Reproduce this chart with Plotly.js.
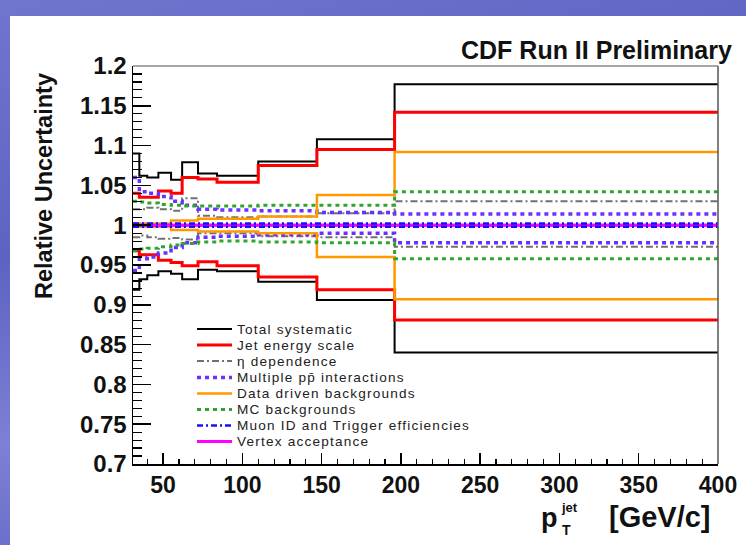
<!DOCTYPE html>
<html><head><meta charset="utf-8">
<script src="https://cdn.plot.ly/plotly-3.0.1.min.js"></script>
<style>
html,body{margin:0;padding:0;width:746px;height:545px;overflow:hidden;}
#bg{position:absolute;left:0;top:0;width:746px;height:545px;background:linear-gradient(165deg,#7275cf 0%,#5e62c2 35%,#7d80d4 60%,#5f63c3 85%,#6a6dc9 100%);}
#white{position:absolute;left:10px;top:16px;width:736px;height:529px;background:#ffffff;}
#chart{position:absolute;left:0;top:0;width:746px;height:545px;}
</style></head><body>
<div id="bg"></div><div id="white"></div><div id="chart"></div>
<script>
// ---- data ----
const binEdges = [31, 35, 40, 47, 55, 62, 72, 84, 110, 147, 196, 400];
const totalUp  = [1.090, 1.062, 1.060, 1.066, 1.057, 1.079, 1.065, 1.062, 1.080, 1.108, 1.177];
const totalDn  = [0.919, 0.932, 0.937, 0.942, 0.939, 0.932, 0.944, 0.942, 0.929, 0.906, 0.840];
const jesUp    = [1.040, 1.035, 1.035, 1.043, 1.040, 1.060, 1.058, 1.054, 1.075, 1.095, 1.142];
const jesDn    = [0.968, 0.963, 0.963, 0.956, 0.953, 0.949, 0.954, 0.949, 0.935, 0.919, 0.881];
const etaUp    = [1.020, 1.020, 1.022, 1.020, 1.018, 1.034, 1.012, 1.010, 1.011, 1.015, 1.030];
const etaDn    = [0.985, 0.987, 0.985, 0.983, 0.984, 0.982, 0.990, 0.990, 0.986, 0.985, 0.973];
const pileUp   = [1.060, 1.042, 1.040, 1.036, 1.030, 1.025, 1.020, 1.019, 1.018, 1.016, 1.014];
const pileDn   = [0.943, 0.958, 0.960, 0.965, 0.972, 0.978, 0.985, 0.986, 0.988, 0.990, 0.978];
const dataUp   = [1.002, 1.002, 1.002, 1.002, 1.006, 1.006, 1.008, 1.008, 1.011, 1.038, 1.092];
const dataDn   = [0.998, 0.998, 0.998, 0.998, 0.994, 0.994, 0.992, 0.992, 0.990, 0.960, 0.907];
const mcUp     = [1.030, 1.029, 1.028, 1.026, 1.025, 1.024, 1.024, 1.024, 1.025, 1.025, 1.042];
const mcDn     = [0.968, 0.970, 0.971, 0.973, 0.975, 0.977, 0.979, 0.980, 0.979, 0.978, 0.958];
const muonUp   = [1.002, 1.002, 1.002, 1.002, 1.002, 1.002, 1.002, 1.002, 1.002, 1.002, 1.002];
const muonDn   = [0.998, 0.998, 0.998, 0.998, 0.998, 0.998, 0.998, 0.998, 0.998, 0.998, 0.998];
const vtxUp    = [1.000, 1.000, 1.000, 1.000, 1.000, 1.000, 1.000, 1.000, 1.000, 1.000, 1.000];
const vtxDn    = [1.000, 1.000, 1.000, 1.000, 1.000, 1.000, 1.000, 1.000, 1.000, 1.000, 1.000];
const legendLabels = ['Total systematic','Jet energy scale','\u03b7 dependence','Multiple pp\u0304 interactions',
  'Data driven backgrounds','MC backgrounds','Muon ID and Trigger efficiencies','Vertex acceptance'];
const xTickVals = [50, 100, 150, 200, 250, 300, 350, 400];

// ---- styles ----
const styles = [
  {color:'#000000', width:2},
  {color:'#ff0000', width:3},
  {color:'#707070', width:2, dash:'7px,3px,2px,3px'},
  {color:'#6a30ff', width:3.5, dash:'4px,4px'},
  {color:'#ff9900', width:2.5},
  {color:'#2ea62e', width:3, dash:'4px,4px'},
  {color:'#1010ff', width:2.5, dash:'6px,3px,2px,3px'},
  {color:'#ff00ff', width:3}
];
const ups = [totalUp, jesUp, etaUp, pileUp, dataUp, mcUp, muonUp, vtxUp];
const dns = [totalDn, jesDn, etaDn, pileDn, dataDn, mcDn, muonDn, vtxDn];

function stepTrace(up, dn, line){
  const x = binEdges.concat([null]).concat(binEdges);
  const y = up.concat([up[up.length-1], null]).concat(dn).concat([dn[dn.length-1]]);
  return {x:x, y:y, type:'scatter', mode:'lines', line:Object.assign({shape:'hv'}, line),
          connectgaps:false, hoverinfo:'skip', showlegend:false};
}
// draw order: vertex before muon so the dash-dot lies on top
const order = [0,1,2,3,4,5,7,6];
const traces = order.map(i => stepTrace(ups[i], dns[i], styles[i]));

// ---- layout helpers (pixel -> paper) ----
const L=133, R=718, T=66, B=464;
const px = v => (v-L)/(R-L);
const py = v => (B-v)/(B-T);

const shapes = [
  {type:'line', xref:'paper', yref:'paper', x0:0, x1:1, y0:1, y1:1, line:{color:'#8a8a8a', width:1.5}},
  {type:'line', xref:'paper', yref:'paper', x0:1, x1:1, y0:0, y1:1, line:{color:'#555555', width:1.5}}
];
const annotations = [];
const rowY = [329, 345, 361, 377.5, 393.5, 409.5, 425.5, 441.5];
legendLabels.forEach((lab, i) => {
  const st = styles[i];
  shapes.push({type:'line', xref:'paper', yref:'paper', x0:px(197), x1:px(232), y0:py(rowY[i]), y1:py(rowY[i]),
    line:{color:st.color, width:st.width, dash:st.dash || 'solid'}});
  annotations.push({xref:'paper', yref:'paper', x:px(236), y:py(rowY[i]), xanchor:'left', yanchor:'middle',
    text:lab, showarrow:false, borderpad:0, font:{family:'Liberation Sans, Arial, sans-serif', size:13.6, color:'#222222'}});
});
const bold = (s) => ({family:'Liberation Sans, Arial, sans-serif', size:s, color:'#111111', weight:'bold'});
annotations.push({xref:'paper', yref:'paper', x:px(734), y:py(50), xanchor:'right', yanchor:'middle',
  text:'CDF Run II Preliminary', showarrow:false, font:bold(25)});
annotations.push({xref:'paper', yref:'paper', x:px(44), y:py(186), xanchor:'center', yanchor:'middle',
  text:'Relative Uncertainty', textangle:-90, showarrow:false, font:bold(23.5)});
annotations.push({xref:'paper', yref:'paper', x:px(540), y:py(518), xanchor:'left', yanchor:'middle',
  text:'p', showarrow:false, borderpad:0, font:bold(27)});
annotations.push({xref:'paper', yref:'paper', x:px(560), y:py(507), xanchor:'left', yanchor:'middle',
  text:'jet', showarrow:false, borderpad:0, font:bold(13)});
annotations.push({xref:'paper', yref:'paper', x:px(561), y:py(530), xanchor:'left', yanchor:'middle',
  text:'T', showarrow:false, borderpad:0, font:bold(14)});
annotations.push({xref:'paper', yref:'paper', x:px(712), y:py(517), xanchor:'right', yanchor:'middle',
  text:'[GeV/c]', showarrow:false, borderpad:0, font:bold(29)});

const layout = {
  width:746, height:545,
  margin:{l:L, r:746-R, t:T, b:545-B, pad:0},
  paper_bgcolor:'rgba(0,0,0,0)', plot_bgcolor:'#ffffff',
  showlegend:false,
  xaxis:{range:[31,400], tickmode:'array', tickvals:xTickVals, ticks:'inside', ticklen:11, tickwidth:1.5,
    tickcolor:'#000', showgrid:false, zeroline:false, showline:true, linecolor:'#000', linewidth:1.5,
    tickfont:bold(23), minor:{dtick:10, tick0:0, ticks:'inside', ticklen:5.5, tickwidth:1.2, tickcolor:'#000', showgrid:false}},
  yaxis:{range:[0.7,1.2], dtick:0.05, tick0:0.7, ticks:'inside', ticklen:18, tickwidth:1.5, tickcolor:'#000',
    showgrid:false, zeroline:false, showline:true, linecolor:'#000', linewidth:1.5, tickfont:bold(24),
    minor:{dtick:0.01, tick0:0.7, ticks:'inside', ticklen:9, tickwidth:1.2, tickcolor:'#000', showgrid:false}},
  shapes:shapes, annotations:annotations
};
Plotly.newPlot('chart', traces, layout, {staticPlot:true, displayModeBar:false}).then(gd => {
  // widen legend text slightly (the reference's text is horizontally stretched), keeping its left edge fixed
  gd.querySelectorAll('.annotation-text').forEach(t => {
    if (legendLabels.indexOf(t.textContent) < 0) return;
    const before = t.getBBox();
    t.style.letterSpacing = '1.2px';
    const after = t.getBBox();
    const dx = before.x - after.x;
    const tr = t.getAttribute('transform') || '';
    t.setAttribute('transform', 'translate(' + dx.toFixed(2) + ',0) ' + tr);
  });
});
</script>
</body></html>
